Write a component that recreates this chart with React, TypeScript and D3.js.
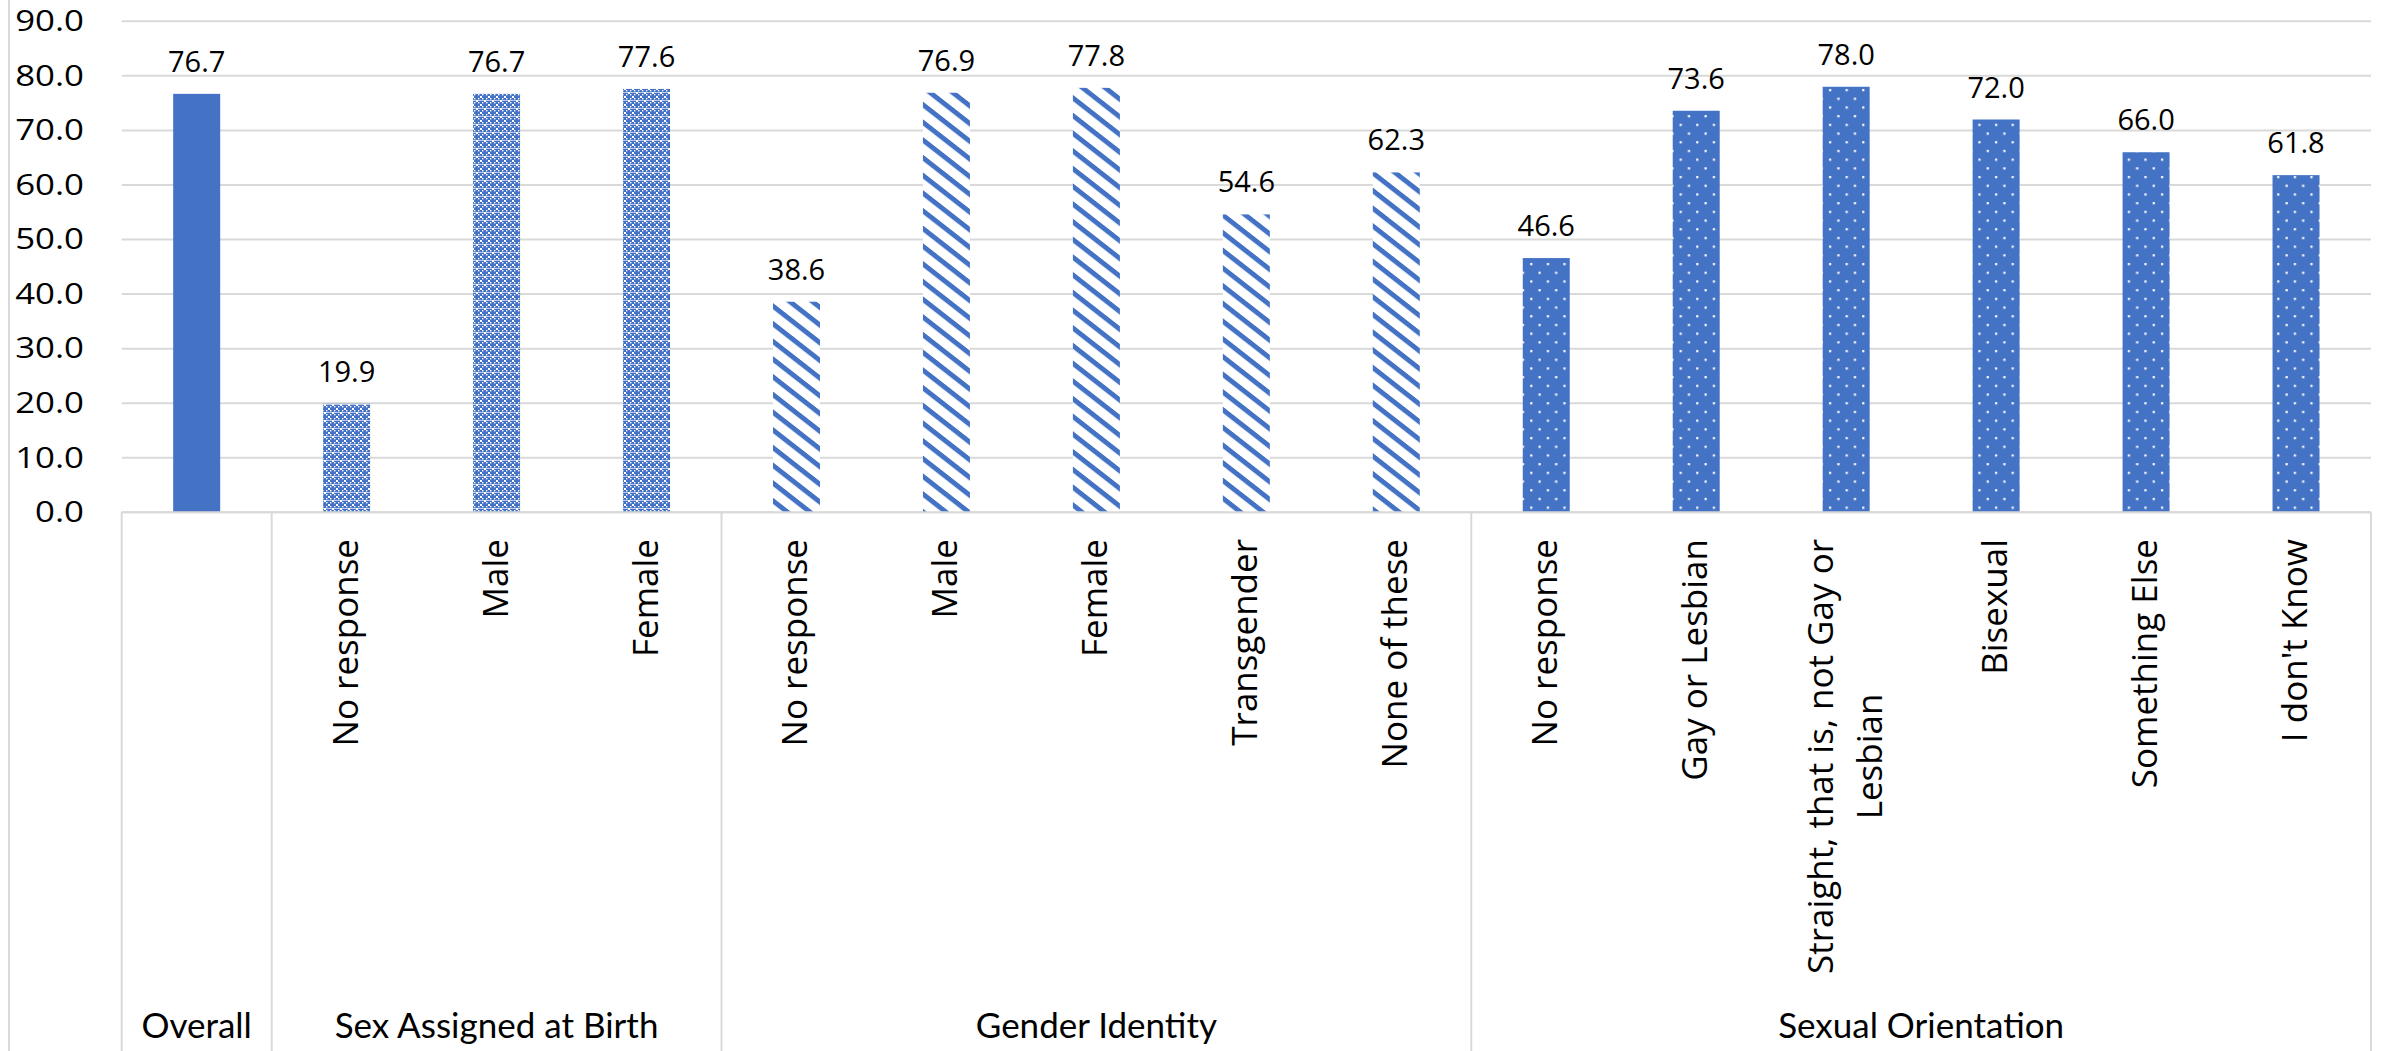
import React, { useEffect, useRef } from "react";
import * as d3 from "d3";

const categories: string[][] = [
  ["Overall"],
  ["No response"],
  ["Male"],
  ["Female"],
  ["No response"],
  ["Male"],
  ["Female"],
  ["Transgender"],
  ["None of these"],
  ["No response"],
  ["Gay or Lesbian"],
  ["Straight, that is, not Gay or", "Lesbian"],
  ["Bisexual"],
  ["Something Else"],
  ["I don't Know"],
];
const values: number[] = [76.7, 19.9, 76.7, 77.6, 38.6, 76.9, 77.8, 54.6, 62.3, 46.6, 73.6, 78.0, 72.0, 66.0, 61.8];
const groups: string[] = ["Overall", "Sex Assigned at Birth", "Gender Identity", "Sexual Orientation"];
const groupSizes: number[] = [1, 3, 5, 6];
const groupFills: string[] = ["solid", "crosshatch", "stripes", "dots"];
const yTicks: number[] = [0, 10, 20, 30, 40, 50, 60, 70, 80, 90];

const W = 2387;
const H = 1051;
const BLUE = "#4472C4";
const GRID = "#d9d9d9";

export default function App() {
  const ref = useRef<SVGSVGElement | null>(null);

  useEffect(() => {
    const svg = d3.select(ref.current);
    svg.selectAll("*").remove();

    const left = 121.7;
    const right = 2371;
    const top = 21.3;
    const bottom = 512.3;

    const idx = categories.map((_, i) => i);
    const x = d3
      .scaleBand<number>()
      .domain(idx)
      .range([left, right])
      .paddingInner(0.6866)
      .paddingOuter(0.6866 / 2);
    const y = d3.scaleLinear().domain([0, 90]).range([bottom, top]);

    // patterns
    const defs = svg.append("defs");
    const ch = defs
      .append("pattern")
      .attr("id", "crosshatch")
      .attr("patternUnits", "userSpaceOnUse")
      .attr("width", 8)
      .attr("height", 8);
    ch.append("rect").attr("width", 8).attr("height", 8).attr("fill", BLUE);
    const whitePts = [
      [0, 0],
      [4, 4],
      [2, 2],
      [6, 6],
      [6, 2],
      [2, 6],
    ];
    whitePts.forEach(([px, py], k) => {
      ch.append("rect")
        .attr("x", px)
        .attr("y", py)
        .attr("width", k < 2 ? 2 : 1.4)
        .attr("height", k < 2 ? 2 : 1.4)
        .attr("fill", "#ffffff");
    });
    ch.append("rect").attr("x", 0).attr("y", 4).attr("width", 8).attr("height", 0.8).attr("fill", "#ffffff").attr("opacity", 0.8);

    const st = defs
      .append("pattern")
      .attr("id", "stripes")
      .attr("patternUnits", "userSpaceOnUse")
      .attr("width", 10)
      .attr("height", 17.7)
      .attr("patternTransform", "skewY(38)");
    st.append("rect").attr("width", 10).attr("height", 17.7).attr("fill", "#ffffff");
    st.append("rect").attr("y", 0).attr("width", 10).attr("height", 6.2).attr("fill", BLUE);

    const dt = defs
      .append("pattern")
      .attr("id", "dots")
      .attr("patternUnits", "userSpaceOnUse")
      .attr("width", 16.6)
      .attr("height", 17.4);
    dt.append("rect").attr("width", 16.6).attr("height", 17.4).attr("fill", BLUE);
    dt.append("rect").attr("x", 3).attr("y", 2).attr("width", 2.2).attr("height", 2.2).attr("fill", "#ffffff");
    dt.append("rect").attr("x", 11.3).attr("y", 10.7).attr("width", 2.2).attr("height", 2.2).attr("fill", "#ffffff");

    // chart border left
    svg.append("line").attr("x1", 9).attr("x2", 9).attr("y1", 0).attr("y2", H).attr("stroke", GRID).attr("stroke-width", 2);

    // gridlines
    svg
      .append("g")
      .selectAll("line")
      .data(yTicks)
      .join("line")
      .attr("x1", left)
      .attr("x2", right)
      .attr("y1", (d) => y(d))
      .attr("y2", (d) => y(d))
      .attr("stroke", GRID)
      .attr("stroke-width", 2);

    // y tick labels
    svg
      .append("g")
      .selectAll("text")
      .data(yTicks)
      .join("text")
      .attr("transform", (d) => `translate(84,${y(d) + 2}) scale(1.2,1)`)
      .attr("text-anchor", "end")
      .attr("dominant-baseline", "middle")
      .attr("font-family", "'Open Sans', sans-serif")
      .attr("font-size", 29)
      .attr("fill", "#000")
      .text((d) => d3.format(".1f")(d));

    // group membership
    const groupOf: number[] = [];
    groupSizes.forEach((n, g) => {
      for (let k = 0; k < n; k++) groupOf.push(g);
    });

    // bars
    svg
      .append("g")
      .selectAll("rect")
      .data(values)
      .join("rect")
      .attr("x", (_, i) => x(i)!)
      .attr("width", x.bandwidth())
      .attr("y", (d) => y(d))
      .attr("height", (d) => y(0) - y(d))
      .attr("fill", (_, i) => (groupFills[groupOf[i]] === "solid" ? BLUE : `url(#${groupFills[groupOf[i]]})`));

    // data labels
    svg
      .append("g")
      .selectAll("text")
      .data(values)
      .join("text")
      .attr("x", (_, i) => x(i)! + x.bandwidth() / 2)
      .attr("y", (d) => y(d) - 22)
      .attr("text-anchor", "middle")
      .attr("font-family", "'Open Sans', sans-serif")
      .attr("font-size", 29)
      .attr("fill", "#000")
      .text((d) => d3.format(".1f")(d));

    // axis line
    svg.append("line").attr("x1", left).attr("x2", right).attr("y1", bottom).attr("y2", bottom).attr("stroke", GRID).attr("stroke-width", 2);

    // group separators
    const step = x.step();
    const bounds: number[] = [0];
    groupSizes.reduce((acc, n) => {
      bounds.push(acc + n);
      return acc + n;
    }, 0);
    svg
      .append("g")
      .selectAll("line")
      .data(bounds)
      .join("line")
      .attr("x1", (b) => left + b * step)
      .attr("x2", (b) => left + b * step)
      .attr("y1", bottom)
      .attr("y2", H)
      .attr("stroke", GRID)
      .attr("stroke-width", 2);

    // rotated category labels (skip Overall)
    const labTop = 539;
    const catG = svg.append("g");
    categories.forEach((lines, i) => {
      if (i === 0) return;
      const cx = x(i)! + x.bandwidth() / 2;
      const lh = 49;
      const n = lines.length;
      const fs = 35;
      if (n === 1) {
        catG
          .append("text")
          .attr("transform", `translate(${cx + 11},${labTop}) rotate(-90)`)
          .attr("text-anchor", "end")
          .attr("font-family", "'Open Sans', sans-serif")
          .attr("font-size", fs)
          .attr("fill", "#000")
          .text(lines[0]);
      } else {
        const first = catG
          .append("text")
          .attr("transform", `translate(${cx + 11 - lh / 2},${labTop}) rotate(-90)`)
          .attr("text-anchor", "end")
          .attr("font-family", "'Open Sans', sans-serif")
          .attr("font-size", fs)
          .attr("fill", "#000")
          .text(lines[0]);
        const len = (first.node() as SVGTextElement).getComputedTextLength();
        for (let k = 1; k < n; k++) {
          catG
            .append("text")
            .attr("transform", `translate(${cx + 11 - lh / 2 + k * lh},${labTop + len / 2}) rotate(-90)`)
            .attr("text-anchor", "middle")
            .attr("font-family", "'Open Sans', sans-serif")
            .attr("font-size", fs)
            .attr("fill", "#000")
            .text(lines[k]);
        }
      }
    });

    // group labels
    svg
      .append("g")
      .selectAll("text")
      .data(groups)
      .join("text")
      .attr("x", (_, g) => left + ((bounds[g] + bounds[g + 1]) / 2) * step)
      .attr("y", 1038)
      .attr("text-anchor", "middle")
      .attr("font-family", "Lato, sans-serif")
      .attr("font-size", 35)
      .attr("fill", "#000")
      .text((d) => d);
  }, []);

  return (
    <svg
      ref={ref}
      width={W}
      height={H}
      style={{ position: "absolute", left: 0, top: 0, background: "#fff" }}
    />
  );
}
